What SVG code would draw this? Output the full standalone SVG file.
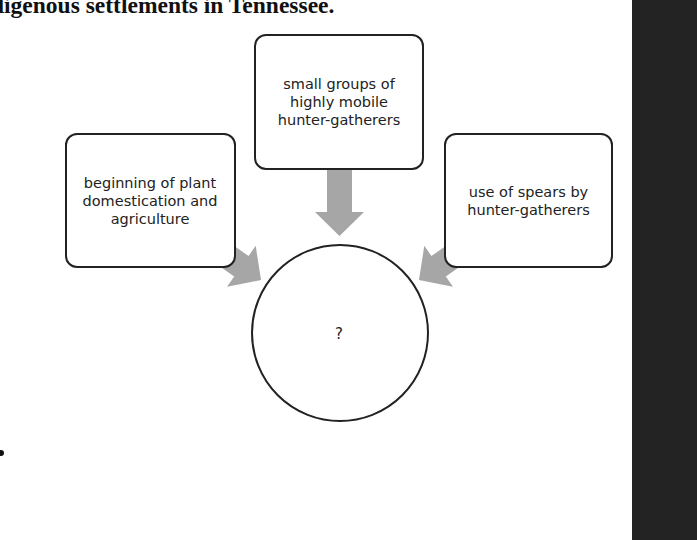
<svg xmlns="http://www.w3.org/2000/svg" width="697" height="540" viewBox="0 0 697 540">
<style>
.box{fill:#fff;stroke:#222;stroke-width:2}
.lbl{font-family:"DejaVu Sans",Verdana,sans-serif;font-size:14.5px;fill:#222;text-anchor:middle}
.arr{fill:#a6a6a6}
.title{font-family:"Liberation Serif","Times New Roman",serif;font-weight:bold;font-size:23.5px;fill:#111}
</style>
<rect width="697" height="540" fill="#fff"/>
<text class="title" x="-9" y="12.5">digenous settlements in Tennessee.</text>
<circle cx="1" cy="453" r="3" fill="#111"/>
<rect x="632" y="0" width="65" height="540" fill="#232323"/>
<defs>
<polygon id="arrowShape" points="0,-12.5 40,-12.5 40,-25 64,0 40,25 40,12.5 0,12.5"/>
</defs>
<g id="connectors">
<polygon class="arr" points="327,150 352,150 352,212 364,212 339.5,236 315,212 327,212"/>
<use href="#arrowShape" class="arr" transform="translate(208.6,243.3) rotate(35)"/>
<use href="#arrowShape" class="arr" transform="translate(471.4,243.3) rotate(145)"/>
</g>
<g id="node-top">
<rect class="box" x="255" y="35" width="168" height="134" rx="11"/>
<text class="lbl" x="339" y="89">small groups of</text>
<text class="lbl" x="339" y="107">highly mobile</text>
<text class="lbl" x="339" y="125">hunter-gatherers</text>
</g>
<g id="node-left">
<rect class="box" x="66" y="134" width="169" height="133" rx="11"/>
<text class="lbl" x="150" y="188">beginning of plant</text>
<text class="lbl" x="150" y="206">domestication and</text>
<text class="lbl" x="150" y="224">agriculture</text>
</g>
<g id="node-right">
<rect class="box" x="445" y="134" width="167" height="133" rx="11"/>
<text class="lbl" x="528.5" y="197">use of spears by</text>
<text class="lbl" x="528.5" y="215">hunter-gatherers</text>
</g>
<g id="node-center">
<circle class="box" cx="340" cy="333" r="88"/>
<text class="lbl" x="339" y="339" style="font-size:15px">?</text>
</g>
</svg>
